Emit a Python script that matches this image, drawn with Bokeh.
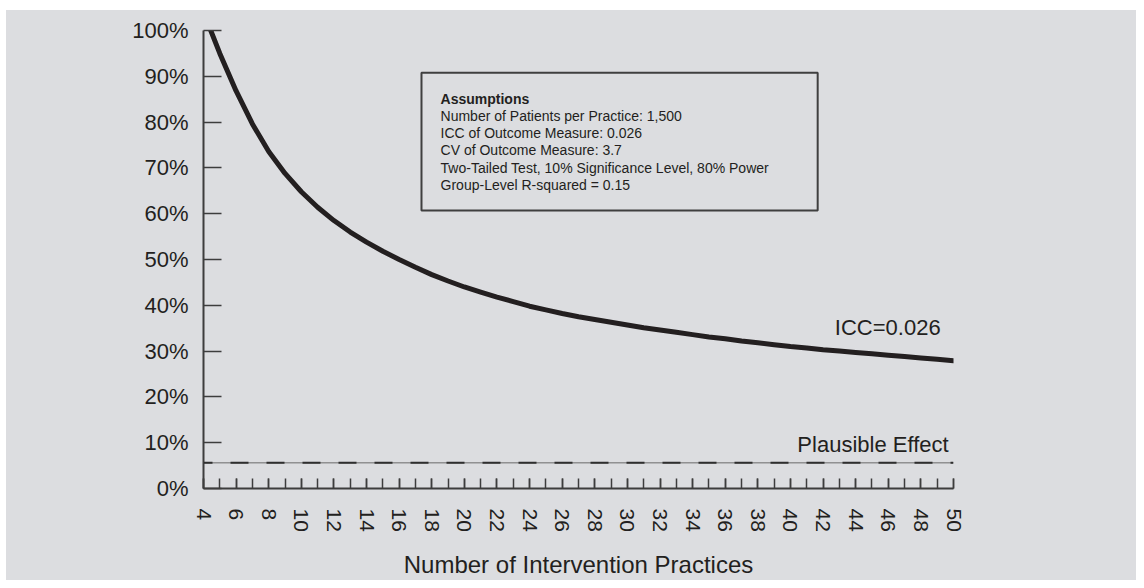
from bokeh.plotting import figure
from bokeh.layouts import column, row
from bokeh.models import (SingleIntervalTicker, PrintfTickFormatter, Label,
                          BoxAnnotation, Range1d, Span, Spacer)
from bokeh.embed import file_html
from bokeh.resources import INLINE

# ---------------- data ----------------
practices = list(range(4, 51))
mde_pct = [104.0, 95.0, 86.8, 79.6, 73.6, 68.8, 64.8, 61.4, 58.5, 56.0,
           53.8, 51.8, 50.0, 48.3, 46.7, 45.3, 44.0, 42.9, 41.8, 40.8,
           39.8, 39.0, 38.2, 37.5, 36.9, 36.3, 35.7, 35.1, 34.6, 34.1,
           33.6, 33.1, 32.7, 32.2, 31.8, 31.4, 31.0, 30.7, 30.3, 30.0,
           29.7, 29.4, 29.1, 28.8, 28.5, 28.2, 27.9]
plausible_effect = 5.6
curve_label = "ICC=0.026"
effect_label = "Plausible Effect"
x_title = "Number of Intervention Practices"
assumptions_title = "Assumptions"
assumptions = [
    "Number of Patients per Practice: 1,500",
    "ICC of Outcome Measure: 0.026",
    "CV of Outcome Measure: 3.7",
    "Two-Tailed Test, 10% Significance Level, 80% Power",
    "Group-Level R-squared = 0.15",
]

# ---------------- style ----------------
BG = "#dcdde0"
INK = "#231f20"
AX = "#3d3d3d"
FONT = "Liberation Sans"

p = figure(width=1130, height=570, x_range=Range1d(4, 50), y_range=Range1d(0, 100),
           output_backend="svg", toolbar_location=None,
           min_border_left=197, min_border_right=183, min_border_top=20,
           min_border_bottom=92, background_fill_color=BG, border_fill_color=BG,
           outline_line_color=None)
p.grid.visible = False

# axes
for ax in (p.xaxis[0], p.yaxis[0]):
    ax.axis_line_color = AX
    ax.axis_line_width = 2
    ax.major_tick_line_color = AX
    ax.major_tick_line_width = 1.5
    ax.minor_tick_line_color = AX
    ax.minor_tick_line_width = 1.5
    ax.major_tick_out = 0
    ax.minor_tick_out = 0
    ax.major_label_text_color = INK
    ax.major_label_text_font = FONT

p.xaxis.ticker = SingleIntervalTicker(interval=2, num_minor_ticks=2)
p.xaxis.major_tick_in = 10
p.xaxis.minor_tick_in = 10
p.xaxis.major_label_orientation = "vertical"
p.xaxis.major_label_text_font_size = "21px"
p.xaxis.major_label_standoff = 20
p.xaxis.axis_label = x_title
p.xaxis.axis_label_standoff = 16
p.xaxis.axis_label_text_font = FONT
p.xaxis.axis_label_text_font_size = "24px"
p.xaxis.axis_label_text_font_style = "normal"
p.xaxis.axis_label_text_color = INK

p.yaxis.ticker = SingleIntervalTicker(interval=10, num_minor_ticks=0)
p.yaxis.formatter = PrintfTickFormatter(format="%d%%")
p.yaxis.major_tick_in = 18
p.yaxis.major_label_text_font_size = "22px"
p.yaxis.major_label_standoff = 15

# plausible effect line
p.add_layout(Span(location=plausible_effect, dimension="width",
                  line_color="#6a6a6a", line_width=1))
p.add_layout(Span(location=plausible_effect, dimension="width",
                  line_color="#2e2e2e", line_width=2, line_dash="18 18",
                  line_dash_offset=9))

# curve
p.line(practices, mde_pct, line_width=5, line_color=INK,
       line_cap="round", line_join="round")

# labels
p.add_layout(Label(x=49.21, y=35.15, text=curve_label, text_align="right",
                   text_baseline="middle", text_font=FONT,
                   text_font_size="22px", text_color=INK))
p.add_layout(Label(x=49.7, y=9.6, text=effect_label, text_align="right",
                   text_baseline="middle", text_font=FONT,
                   text_font_size="22px", text_color=INK))

# assumptions box
p.add_layout(BoxAnnotation(left=17.37, right=41.67, top=90.8, bottom=60.7,
                           fill_alpha=0, line_color="#3f3f3f", line_alpha=1.0,
                           line_width=2))
y0, dy = 85.15, 3.78
p.add_layout(Label(x=18.54, y=y0, text=assumptions_title, text_align="left",
                   text_baseline="middle", text_font=FONT,
                   text_font_size="14px", text_font_style="bold", text_color=INK))
for i, line in enumerate(assumptions):
    p.add_layout(Label(x=18.54, y=y0 - dy * (i + 1), text=line, text_align="left",
                       text_baseline="middle", text_font=FONT,
                       text_font_size="14px", text_color=INK))

inner = column(p, styles={"background-color": BG})
layout = column(Spacer(height=10), row(Spacer(width=6), inner))
open("out.html", "w").write(file_html(layout, INLINE))
